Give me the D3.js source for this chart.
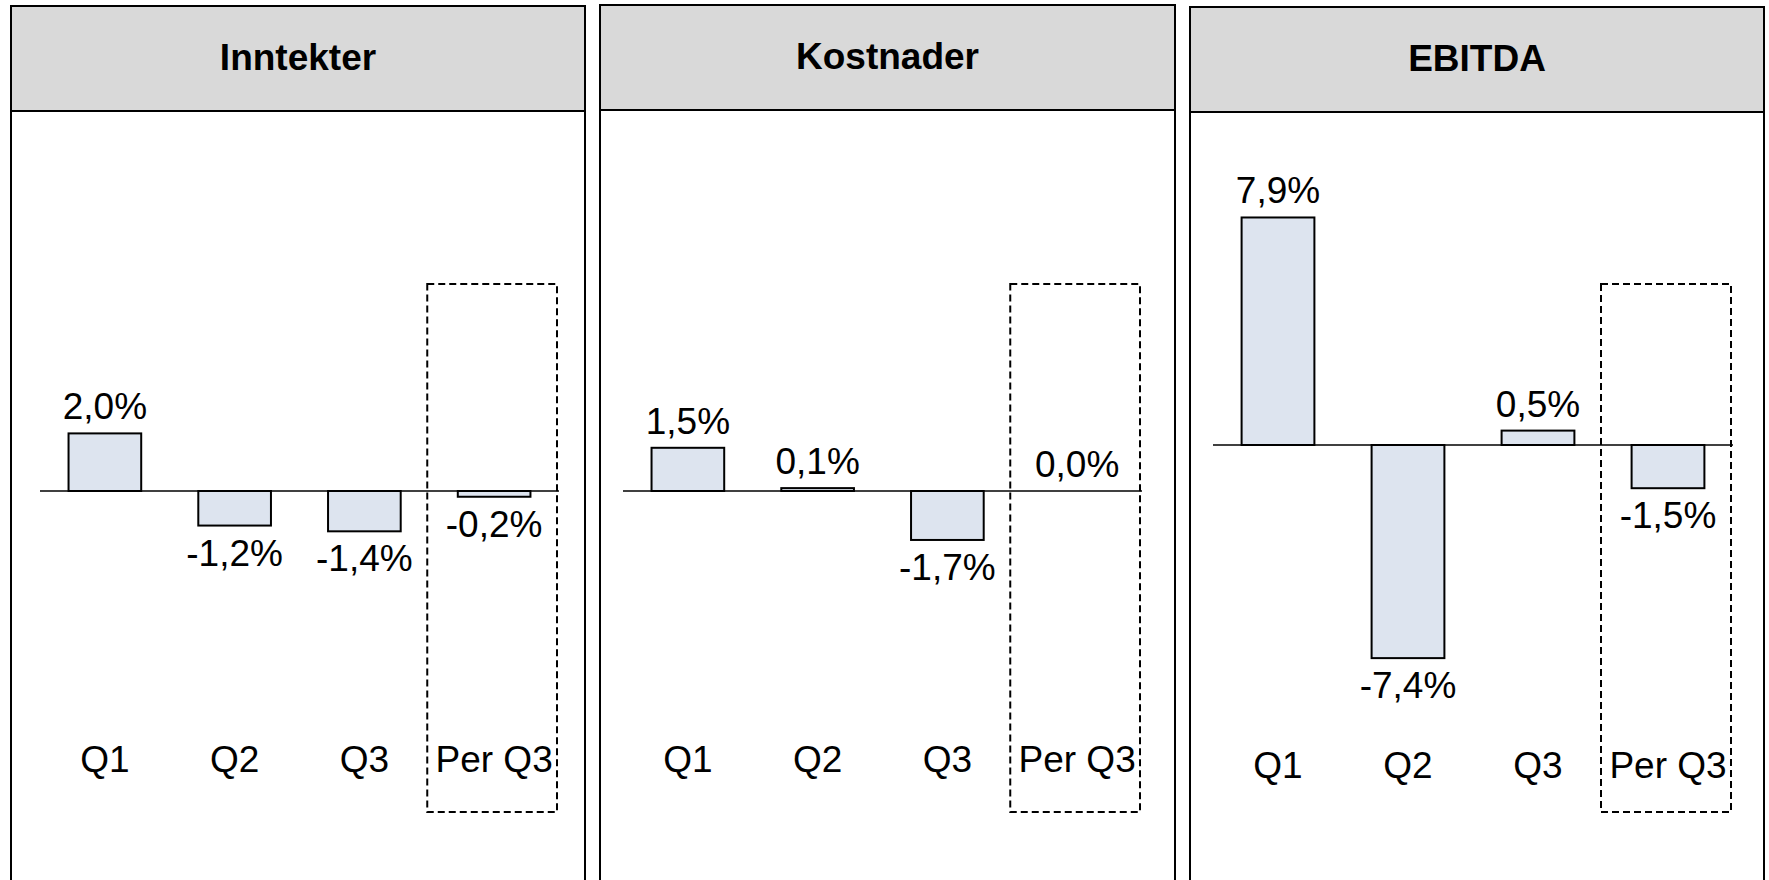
<!DOCTYPE html>
<html>
<head>
<meta charset="utf-8">
<script src="https://cdn.jsdelivr.net/npm/d3@7"></script>
<style>
  body { margin: 0; background: #fff; }
  text { font-family: "Liberation Sans", Arial, sans-serif; fill: #000; }
</style>
</head>
<body>
<script>
//Chart data
var categories = ["Q1", "Q2", "Q3", "Per Q3"];
var panelTitles = ["Inntekter", "Kostnader", "EBITDA"];
var inntekter = [2.0, -1.2, -1.4, -0.2];
var kostnader = [1.5, 0.1, -1.7, 0.0];
var ebitda = [7.9, -7.4, 0.5, -1.5];
var highlighted = "Per Q3";   //the cumulative column gets a dashed frame

var series = [inntekter, kostnader, ebitda];

//Width and height
var w = 1769;
var h = 880;

//Panel layout (left, right, top, header bottom, plot span, zero line, label line)
var panels = [
    { x0: 11,   x1: 585,  top: 6, head: 111, plotX0: 40,   plotX1: 559,  zero: 491, catY: 759 },
    { x0: 600,  x1: 1175, top: 5, head: 110, plotX0: 623,  plotX1: 1142, zero: 491, catY: 759 },
    { x0: 1190, x1: 1764, top: 7, head: 112, plotX0: 1213, plotX1: 1733, zero: 445, catY: 765 }
];
var pxPerPct = 28.8;
var boxTop = 284, boxBottom = 812;

//Norwegian number format: decimal comma, plain hyphen minus
var locale = d3.formatLocale({ decimal: ",", thousands: " ", grouping: [3], currency: ["", " kr"], minus: "-" });
var fmt = locale.format(".1f");

//Create SVG element
var svg = d3.select("body")
            .append("svg")
            .attr("width", w)
            .attr("height", h);

panels.forEach(function(p, i) {

    var g = svg.append("g");
    var values = series[i];

    //Panel frame
    g.append("rect")
        .attr("x", p.x0)
        .attr("y", p.top)
        .attr("width", p.x1 - p.x0)
        .attr("height", h + 40)
        .attr("fill", "#fff")
        .attr("stroke", "#000")
        .attr("stroke-width", 2);

    //Grey header
    g.append("rect")
        .attr("x", p.x0)
        .attr("y", p.top)
        .attr("width", p.x1 - p.x0)
        .attr("height", p.head - p.top)
        .attr("fill", "#d9d9d9")
        .attr("stroke", "#000")
        .attr("stroke-width", 2);

    g.append("text")
        .attr("x", (p.x0 + p.x1) / 2)
        .attr("y", (p.top + p.head) / 2 + 11)
        .attr("text-anchor", "middle")
        .style("font-size", "37px")
        .style("font-weight", "bold")
        .text(panelTitles[i]);

    //Scales
    var x = d3.scaleBand()
                .domain(categories)
                .range([p.plotX0, p.plotX1])
                .paddingInner(0.44)
                .paddingOuter(0.22);

    var y = d3.scaleLinear()
                .domain([0, 1])
                .range([p.zero, p.zero - pxPerPct]);

    //Dashed frame round the cumulative column
    var step = x.step();
    g.append("rect")
        .attr("x", x(highlighted) + x.bandwidth() / 2 - step / 2 - 2)
        .attr("y", boxTop)
        .attr("width", step)
        .attr("height", boxBottom - boxTop)
        .attr("fill", "none")
        .attr("stroke", "#000")
        .attr("stroke-width", 2)
        .attr("stroke-dasharray", "7,4");

    //Bars
    g.selectAll("rect.bar")
        .data(values)
        .enter()
        .append("rect")
        .attr("class", "bar")
        .attr("x", function(d, j) { return x(categories[j]); })
        .attr("y", function(d) { return y(Math.max(d, 0)); })
        .attr("width", x.bandwidth())
        .attr("height", function(d) { return Math.abs(y(d) - y(0)); })
        .attr("fill", "#dde4ef")
        .attr("stroke", function(d) { return d === 0 ? "none" : "#000"; })
        .attr("stroke-width", 2);

    //Zero line
    g.append("line")
        .attr("x1", p.plotX0)
        .attr("x2", p.plotX1)
        .attr("y1", y(0))
        .attr("y2", y(0))
        .attr("stroke", "#000")
        .attr("stroke-width", 1.5);

    //Value labels
    g.selectAll("text.value")
        .data(values)
        .enter()
        .append("text")
        .attr("class", "value")
        .attr("x", function(d, j) { return x(categories[j]) + x.bandwidth() / 2; })
        .attr("y", function(d) { return d >= 0 ? y(d) - 14 : y(d) + 40; })
        .attr("text-anchor", "middle")
        .style("font-size", "37px")
        .text(function(d) { return fmt(d) + "%"; });

    //Category labels
    g.selectAll("text.cat")
        .data(categories)
        .enter()
        .append("text")
        .attr("class", "cat")
        .attr("x", function(d) { return x(d) + x.bandwidth() / 2; })
        .attr("y", p.catY + 13)
        .attr("text-anchor", "middle")
        .style("font-size", "37px")
        .text(function(d) { return d; });
});
</script>
</body>
</html>
